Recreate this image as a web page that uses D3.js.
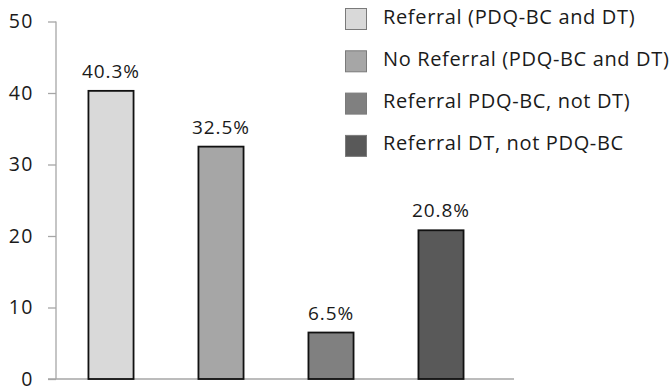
<!DOCTYPE html>
<html>
<head>
<meta charset="utf-8">
<script src="https://cdn.jsdelivr.net/npm/d3@7"></script>
<style>
  html, body { margin: 0; padding: 0; background: #fff; }
  svg { display: block; font-family: "Open Sans", "Noto Sans", sans-serif; }
</style>
</head>
<body>
<svg id="chart" width="671" height="392"></svg>
<script>
// Referral outcome categories and their share (%)
const categories = [
  "Referral (PDQ-BC and DT)",
  "No Referral (PDQ-BC and DT)",
  "Referral PDQ-BC, not DT)",
  "Referral DT, not PDQ-BC"
];
const values = [40.3, 32.5, 6.5, 20.8];
const valueLabels = ["40.3%", "32.5%", "6.5%", "20.8%"];
const fills = ["#d9d9d9", "#a6a6a6", "#808080", "#595959"];
const yTicks = [0, 10, 20, 30, 40, 50];

const svg = d3.select("#chart");

const y = d3.scaleLinear().domain([0, 50]).range([379, 21.5]);
const x = d3.scaleBand()
  .domain(categories)
  .range([56, 496])
  .paddingInner(0.59)
  .paddingOuter(0.295);

// Y axis
const yAxis = svg.append("g")
  .attr("transform", "translate(56,0)")
  .call(d3.axisLeft(y).tickValues(yTicks).tickSize(8).tickPadding(14).tickFormat(d3.format("d")));
yAxis.select(".domain").attr("stroke", "#a6a6a6").attr("stroke-width", 1.3)
  .attr("d", `M0,${y(50)}V${y(0)}`);
yAxis.selectAll(".tick line").attr("stroke", "#a6a6a6").attr("stroke-width", 1.3);
yAxis.selectAll(".tick text")
  .attr("fill", "#1a1a1a")
  .style("font-size", "19.5px")
  .style("letter-spacing", "1.5px")
  .style("font-family", "'Open Sans', 'Noto Sans', sans-serif");

// Baseline
svg.append("line")
  .attr("x1", 48).attr("x2", 514)
  .attr("y1", y(0)).attr("y2", y(0))
  .attr("stroke", "#a6a6a6").attr("stroke-width", 1.3);

// Bars
svg.selectAll("rect.bar")
  .data(values)
  .join("rect")
  .attr("class", "bar")
  .attr("x", (d, i) => x(categories[i]))
  .attr("width", x.bandwidth())
  .attr("y", d => y(d))
  .attr("height", d => y(0) - y(d))
  .attr("fill", (d, i) => fills[i])
  .attr("stroke", "#111")
  .attr("stroke-width", 1.8);

// Value labels
svg.selectAll("text.val")
  .data(values)
  .join("text")
  .attr("class", "val")
  .attr("x", (d, i) => x(categories[i]) + x.bandwidth() / 2)
  .attr("y", d => y(d) - 13)
  .attr("text-anchor", "middle")
  .attr("fill", "#1a1a1a")
  .style("font-size", "19px")
  .style("letter-spacing", "0.9px")
  .text((d, i) => valueLabels[i]);

// Legend
const legend = svg.append("g").attr("transform", "translate(345,8)");
const rows = legend.selectAll("g")
  .data(categories)
  .join("g")
  .attr("transform", (d, i) => `translate(0,${i * 42.3})`);
rows.append("rect")
  .attr("x", 0.5).attr("y", 0.5)
  .attr("width", 21).attr("height", 21)
  .attr("fill", (d, i) => fills[i])
  .attr("stroke", "#7a7a7a")
  .attr("stroke-width", 1);
rows.append("text")
  .attr("x", 38)
  .attr("y", 15.5)
  .attr("fill", "#1a1a1a")
  .style("font-size", "20px")
  .style("letter-spacing", "0.65px")
  .text(d => d);
</script>
</body>
</html>
